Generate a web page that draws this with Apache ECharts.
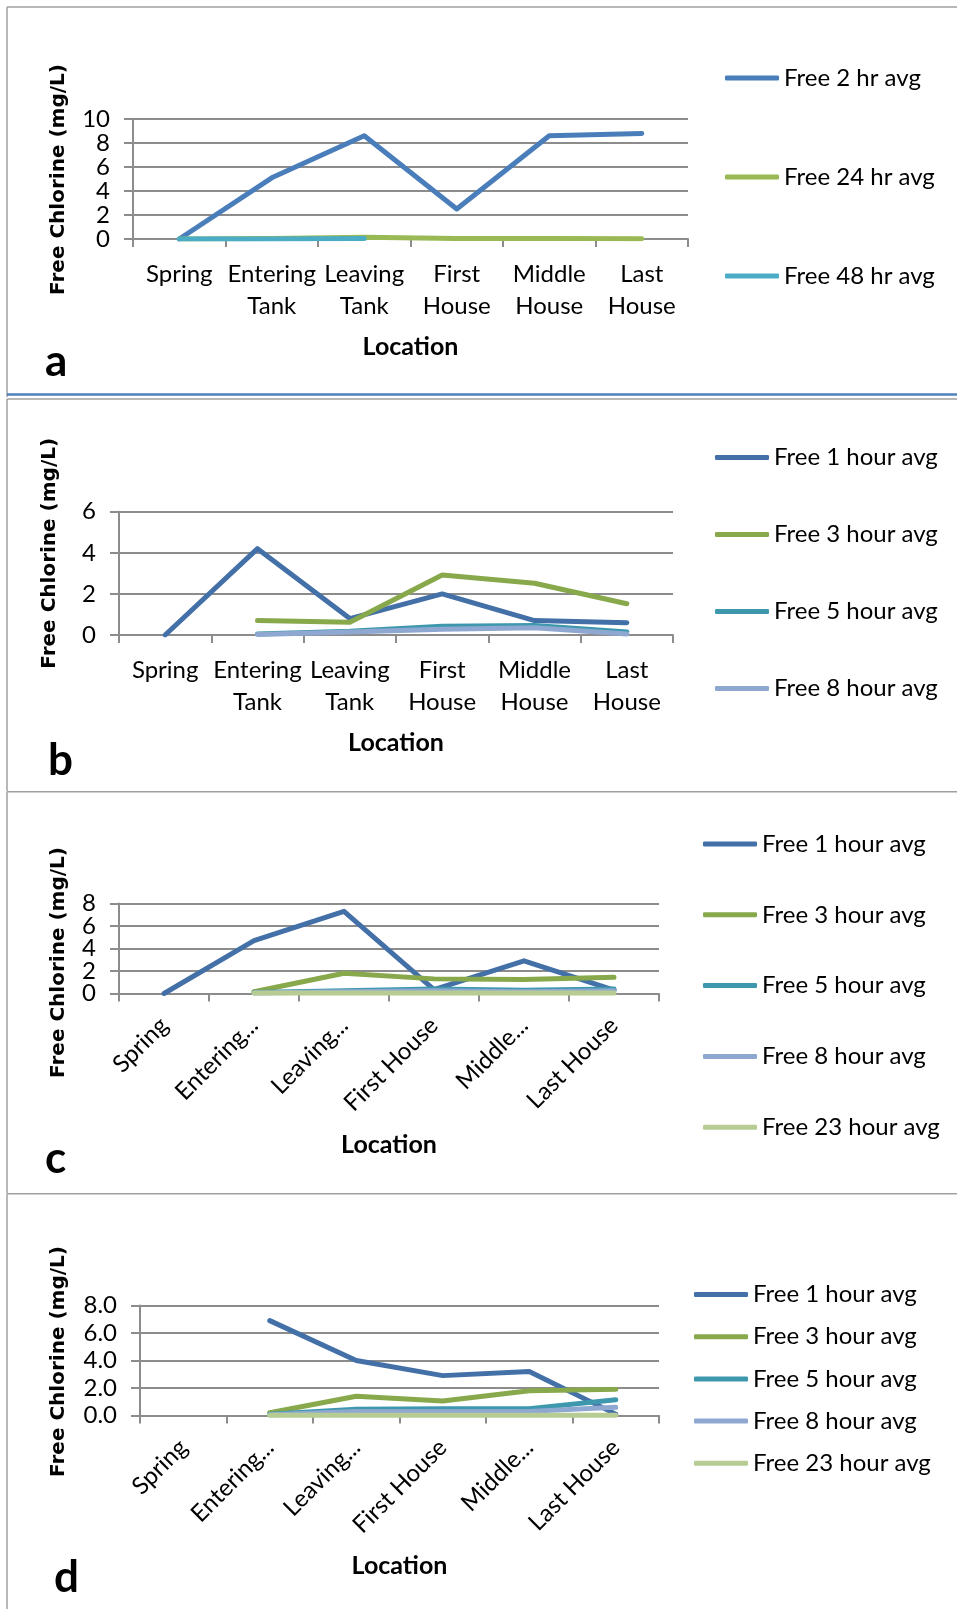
<!DOCTYPE html>
<html>
<head>
<meta charset="utf-8">
<script src="https://cdn.jsdelivr.net/npm/echarts@6/dist/echarts.min.js"></script>
<style>
  body { margin: 0; background: #fff; }
  .panel { position: absolute; left: 0; width: 957px; }
</style>
</head>
<body>
<div id="chartA" class="panel" style="top:0;height:397px"></div>
<div id="chartB" class="panel" style="top:397px;height:394px"></div>
<div id="chartC" class="panel" style="top:791px;height:402px"></div>
<div id="chartD" class="panel" style="top:1193px;height:416px"></div>
<script>
  // categories / tick labels
  const locationLabels = ['Spring', 'Entering\nTank', 'Leaving\nTank', 'First\nHouse', 'Middle\nHouse', 'Last\nHouse'];
  const locationLabelsCut = ['Spring', 'Entering...', 'Leaving...', 'First House', 'Middle...', 'Last House'];
  const yTicksC = ['0', '2', '4', '6', '8'];
  const yTicksD = ['0.0', '2.0', '4.0', '6.0', '8.0'];

  // panel a
  const namesA = ['Free 2 hr avg', 'Free 24 hr avg', 'Free 48 hr avg'];
  const free2hrA = [0, 5.1, 8.6, 2.5, 8.6, 8.8];
  const free24hrA = [0, 0.05, 0.15, 0.05, 0.05, 0.02];
  const free48hrA = [0, 0, 0.05, null, null, null];

  // panel b
  const namesB = ['Free 1 hour avg', 'Free 3 hour avg', 'Free 5 hour avg', 'Free 8 hour avg'];
  const free1hB = [0, 4.2, 0.8, 2.0, 0.7, 0.6];
  const free3hB = [null, 0.7, 0.62, 2.92, 2.52, 1.52];
  const free5hB = [null, 0.05, 0.18, 0.42, 0.46, 0.15];
  const free8hB = [null, 0.03, 0.14, 0.28, 0.35, 0.05];

  // panel c
  const namesCD = ['Free 1 hour avg', 'Free 3 hour avg', 'Free 5 hour avg', 'Free 8 hour avg', 'Free 23 hour avg'];
  const free1hC = [0, 4.7, 7.3, 0.35, 2.9, 0.3];
  const free3hC = [null, 0.15, 1.8, 1.3, 1.25, 1.45];
  const free5hC = [null, 0.1, 0.25, 0.4, 0.3, 0.4];
  const free8hC = [null, 0.05, 0.15, 0.25, 0.15, 0.25];
  const free23hC = [null, 0.05, 0.05, 0.05, 0.05, 0.05];

  // panel d
  const free1hD = [null, 6.9, 4.0, 2.9, 3.2, 0.1];
  const free3hD = [null, 0.2, 1.4, 1.05, 1.8, 1.9];
  const free5hD = [null, 0.1, 0.45, 0.5, 0.5, 1.15];
  const free8hD = [null, 0.05, 0.3, 0.3, 0.3, 0.6];
  const free23hD = [null, 0.02, 0.02, 0.02, 0.02, 0.02];

  const colorsA = ['#4a7ebb', '#98b954', '#4bacc6'];
  const colorsB = ['#4470a8', '#88a84c', '#3d98ae', '#8fa8d2', '#b6cc92'];

  const gridColor = '#8c8c8c';
  const frameColor = '#a0a0a0';
  const font = 'Lato, sans-serif';

  function frame(h, topY, blueBottom) {
    let items = [
      { type: 'line', shape: { x1: 7, y1: topY, x2: 957, y2: topY }, style: { stroke: frameColor, lineWidth: 1.5 } },
      { type: 'line', shape: { x1: 7, y1: topY, x2: 7, y2: h }, style: { stroke: frameColor, lineWidth: 1.5 } }
    ];
    if (blueBottom) {
      items.push({ type: 'line', shape: { x1: 7, y1: blueBottom, x2: 957, y2: blueBottom }, style: { stroke: '#4f81bd', lineWidth: 2.5 } });
    }
    return items;
  }

  function yAxisOf(p, pick, main) {
    return {
      type: 'value', min: 0, max: p.max, interval: 2, position: 'left',
      axisLine: { show: main, lineStyle: { color: gridColor, width: 2 } },
      axisTick: { show: main, length: 9, lineStyle: { color: gridColor, width: 2 } },
      splitLine: { show: main, lineStyle: { color: gridColor, width: 2 } },
      axisLabel: {
        margin: 23, fontFamily: font, fontSize: 24, color: '#000',
        formatter: (v, i) => (pick(i) ? (p.yTicks ? p.yTicks[i] : String(v)) : '')
      }
    };
  }

  function makeOption(p) {
    let graphic = frame(p.height, p.frameTop, p.blueBottom).concat([
      {
        type: 'text', x: p.yTitle[0], y: p.yTitle[1], rotation: Math.PI / 2,
        style: { text: 'Free Chlorine (mg/L)', fill: '#000', font: 'bold 20px "DejaVu Sans", sans-serif', align: 'center', verticalAlign: 'middle' }
      },
      {
        type: 'text', x: p.letter[1], y: p.letter[2],
        style: { text: p.letter[0], fill: '#000', font: 'bold 44px ' + font, align: 'left', verticalAlign: 'middle' }
      }
    ]);
    // short axes: even-index labels on the main axis, odd ones on a twin axis so none get dropped
    let yAxis = p.splitLabels
      ? [yAxisOf(p, i => i % 2 === 0, true), yAxisOf(p, i => i % 2 === 1, false)]
      : [yAxisOf(p, () => true, true)];
    return {
      animation: false,
      graphic: graphic,
      grid: { left: p.grid[0], top: p.grid[1], width: p.grid[2], height: p.grid[3] },
      legend: {
        orient: 'vertical', left: p.legend[0], top: p.legend[1], itemGap: p.legend[2],
        padding: 0, itemWidth: 54, itemHeight: 5, icon: 'roundRect',
        textStyle: { fontFamily: font, fontSize: 24, color: '#000', lineHeight: 24 },
        data: p.names
      },
      xAxis: {
        type: 'category', data: p.labels, boundaryGap: true,
        axisLine: { lineStyle: { color: gridColor, width: 2 } },
        axisTick: { show: true, length: 8, lineStyle: { color: gridColor, width: 2 } },
        axisLabel: {
          interval: 0, rotate: p.rotate, margin: p.rotate ? 28 : 19,
          fontFamily: font, fontSize: 24, lineHeight: 32, color: '#000'
        },
        name: 'Location', nameLocation: 'middle', nameGap: p.nameGap,
        nameTextStyle: { fontFamily: font, fontWeight: 'bold', fontSize: 25, color: '#000' }
      },
      yAxis: yAxis,
      series: p.names.map((n, i) => ({
        name: n, type: 'line', data: p.values[i], symbol: 'none', yAxisIndex: 0,
        lineStyle: { width: 5, color: p.colors[i], cap: 'round', join: 'round' },
        itemStyle: { color: p.colors[i] }
      }))
    };
  }

  const panels = [
    {
      id: 'chartA', height: 397, frameTop: 7, blueBottom: 394.5,
      grid: [133, 119, 555, 120], max: 10, labels: locationLabels, rotate: 0, nameGap: 95,
      legend: [725, 66, 75], names: namesA, colors: colorsA,
      values: [free2hrA, free24hrA, free48hrA],
      yTitle: [59, 179.5], letter: ['a', 45, 362]
    },
    {
      id: 'chartB', height: 394, frameTop: 2,
      grid: [119, 114.7, 554, 123.3], max: 6, labels: locationLabels, rotate: 0, nameGap: 95,
      legend: [715, 48.5, 53], names: namesB, colors: colorsB,
      values: [free1hB, free3hB, free5hB, free8hB],
      yTitle: [49.5, 156.3], letter: ['b', 48, 364]
    },
    {
      id: 'chartC', height: 402, frameTop: 0.75,
      grid: [119, 112.5, 540, 90], max: 8, labels: locationLabelsCut, rotate: 45, nameGap: 139,
      legend: [703, 41, 46.8], names: namesCD, colors: colorsB,
      values: [free1hC, free3hC, free5hC, free8hC, free23hC],
      yTitle: [59, 171.5], letter: ['c', 45, 368], yTicks: yTicksC, splitLabels: true
    },
    {
      id: 'chartD', height: 416, frameTop: 0.75,
      grid: [140, 112.5, 519, 110], max: 8, labels: locationLabelsCut, rotate: 45, nameGap: 138,
      legend: [694, 89.5, 18.2], names: namesCD, colors: colorsB,
      values: [free1hD, free3hD, free5hD, free8hD, free23hD],
      yTitle: [59, 168.5], letter: ['d', 54, 385], yTicks: yTicksD
    }
  ];

  panels.forEach(p => {
    let chart = echarts.init(document.getElementById(p.id));
    chart.setOption(makeOption(p));
  });
</script>
</body>
</html>
